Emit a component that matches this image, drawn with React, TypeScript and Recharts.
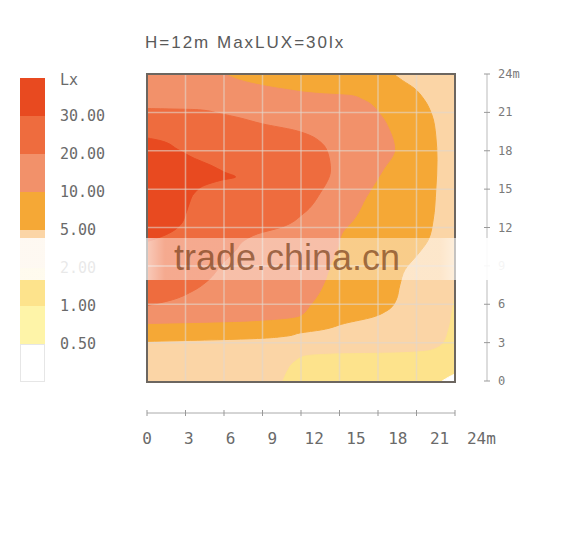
import React from "react";
import { ComposedChart, Area, XAxis, YAxis, CartesianGrid, ReferenceLine } from "recharts";

// isolux levels, in metres.
// for each height y, how far (x) the level reaches from the left wall
const orangeY = [3.1, 3.3, 3.5, 3.75, 4.0, 4.5, 5.0, 5.5, 6.3, 7.5, 8.7, 9.9, 11.0, 12.6, 14.9, 17.3, 19.2, 20.8, 22.0, 22.9, 23.5, 24];
const orangeX = [0, 8.0, 10.8, 11.9, 13.6, 15.4, 17.6, 18.7, 19.4, 19.7, 20.1, 21.1, 21.9, 22.3, 22.5, 22.6, 22.5, 22.2, 21.6, 20.8, 19.9, 19.2];

const salmonY = [4.5, 4.7, 5.1, 5.9, 6.7, 7.9, 9.1, 10.2, 11.7, 12.6, 14.4, 16.5, 18.1, 19.6, 20.8, 22.0, 22.3, 22.5, 22.8, 23.1, 23.5, 24];
const salmonX = [0, 8.0, 11.9, 12.7, 13.3, 13.9, 14.3, 14.8, 15.3, 16.1, 17.1, 18.4, 19.3, 18.9, 18.2, 16.8, 16.0, 13.1, 10.8, 9.0, 7.3, 6.1];

const redY = [5.9, 6.3, 7.0, 7.9, 9.1, 10.2, 11.0, 11.5, 12.0, 13.1, 14.7, 16.5, 17.8, 18.7, 19.2, 19.6, 20.1, 20.6, 20.9, 21.2, 21.3];
const redX = [0, 1.8, 3.5, 4.8, 5.8, 6.9, 7.6, 8.6, 10.4, 12.2, 13.5, 14.3, 14.1, 13.5, 12.7, 11.5, 9.0, 7.1, 5.7, 4.1, 0];

const darkY = [10.9, 11.2, 11.65, 12.2, 13.0, 13.9, 14.7, 15.3, 15.7, 15.95, 16.3, 16.9, 17.4, 18.1, 18.8, 19.0];
const darkX = [0, 0.9, 1.9, 2.6, 3.0, 3.3, 3.7, 4.5, 5.8, 6.9, 6.1, 4.9, 3.7, 2.4, 1.0, 0];

// low levels in the bottom right corner: from x up to the right wall
const yellowY = [0, 0.7, 1.5, 1.95, 2.1, 2.2, 2.4, 3.0, 4.0, 5.55, 6.7];
const yellowFrom = [10.6, 10.9, 11.5, 12.3, 14.3, 19.7, 22.1, 23.1, 23.5, 23.8, 24];
const whiteY = [0, 0.3, 0.55];
const whiteFrom = [23.0, 23.5, 24];

const ticks = [0, 3, 6, 9, 12, 15, 18, 21, 24];
const gridLines = [3, 6, 9, 12, 15, 18, 21];

const legendColors = ["#e84a20", "#ee6c3e", "#f2916a", "#f5a836", "#fbd5a6", "#fde38c", "#fef4a8", "#ffffff"];
const legendLabels = ["Lx", "30.00", "20.00", "10.00", "5.00", "2.00", "1.00", "0.50"];

const rows = (ys: number[], xs: number[]) => ys.map((y, i) => ({ y, x: xs[i] }));
const toWall = (ys: number[], from: number[]) => ys.map((y, i) => ({ y, x: [from[i], 24] }));

const levels = [
  { name: "5-10", data: rows(orangeY, orangeX), color: legendColors[3] },
  { name: "10-20", data: rows(salmonY, salmonX), color: legendColors[2] },
  { name: "20-30", data: rows(redY, redX), color: legendColors[1] },
  { name: "30+", data: rows(darkY, darkX), color: legendColors[0] },
  { name: "1-2", data: toWall(yellowY, yellowFrom), color: legendColors[5] },
  { name: "0.5", data: toWall(whiteY, whiteFrom), color: legendColors[7] },
];

const mono = "'DejaVu Sans Mono', monospace";

const BottomTick = (props: any) => {
  const { x, y, payload } = props;
  const v = payload.value;
  return (
    <g>
      <line x1={x} x2={x} y1={y - 3} y2={y + 3} stroke="#999" />
      <text x={x + v * 1.1} y={y + 31} textAnchor="middle" fontSize={16} fill="#6a6a6a" fontFamily={mono}>
        {v === 24 ? "24m" : v}
      </text>
    </g>
  );
};

const RightTick = (props: any) => {
  const { x, y, payload } = props;
  const v = payload.value;
  return (
    <g>
      <line x1={x - 3} x2={x + 3} y1={y} y2={y} stroke="#999" />
      <text x={x + 11} y={y + 4} fontSize={12} fill="#7a7a7a" fontFamily={mono}>
        {v === 24 ? "24m" : v}
      </text>
    </g>
  );
};

export default function App() {
  return (
    <div style={{ position: "absolute", left: 0, top: 0, width: 577, height: 541, background: "#fff" }}>
      <div
        style={{
          position: "absolute",
          left: 145,
          top: 33,
          fontFamily: "'Liberation Sans', Arial, sans-serif",
          fontSize: 17,
          letterSpacing: 2,
          color: "#5a5a5a",
          whiteSpace: "nowrap",
        }}
      >
        H=12m MaxLUX=30lx
      </div>

      {/* legend */}
      {legendColors.map((c, i) => (
        <div
          key={c}
          style={{
            position: "absolute",
            left: 20,
            top: 78 + i * 38,
            width: 25,
            height: 38,
            background: c,
            boxSizing: "border-box",
            border: i === 7 ? "1px solid #e6e6e6" : "none",
          }}
        />
      ))}
      {legendLabels.map((t, i) => (
        <div
          key={t}
          style={{
            position: "absolute",
            left: 60,
            top: (i === 0 ? 80 : 78 + i * 38) - 10,
            fontFamily: mono,
            fontSize: 15,
            color: "#6a6a6a",
            lineHeight: "20px",
          }}
        >
          {t}
        </div>
      ))}

      <div style={{ position: "absolute", left: 0, top: 0 }}>
        <ComposedChart layout="vertical" width={577} height={541} margin={{ top: 74, left: 147, right: 40, bottom: 88 }}>
          <CartesianGrid xAxisId="m" yAxisId="m" horizontal={false} vertical={false} fill="#fbd5a6" />
          <XAxis xAxisId="gap" type="number" domain={[0, 24]} height={32} tick={false} axisLine={false} tickLine={false} />
          <XAxis
            xAxisId="m"
            type="number"
            domain={[0, 24]}
            ticks={ticks}
            interval={0}
            height={40}
            tick={<BottomTick />}
            tickLine={false}
            tickSize={0}
            tickMargin={0}
            axisLine={{ stroke: "#aaa" }}
            allowDataOverflow
          />
          <YAxis yAxisId="gap" orientation="right" type="number" domain={[0, 24]} width={32} tick={false} axisLine={false} tickLine={false} />
          <YAxis
            yAxisId="m"
            orientation="right"
            type="number"
            dataKey="y"
            domain={[0, 24]}
            reversed
            ticks={ticks}
            interval={0}
            width={50}
            tick={<RightTick />}
            tickLine={false}
            tickSize={0}
            tickMargin={0}
            axisLine={{ stroke: "#bbb" }}
            allowDataOverflow
          />
          {levels.map((l) => (
            <Area
              key={l.name}
              xAxisId="m"
              yAxisId="m"
              data={l.data}
              dataKey="x"
              type="monotone"
              fill={l.color}
              fillOpacity={1}
              stroke={l.color}
              strokeWidth={1}
              dot={false}
              activeDot={false}
              isAnimationActive={false}
            />
          ))}
          {gridLines.map((g) => (
            <ReferenceLine key={"v" + g} xAxisId="m" yAxisId="m" x={g} stroke="rgba(225,215,205,0.6)" strokeWidth={1.5} />
          ))}
          {gridLines.map((g) => (
            <ReferenceLine key={"h" + g} xAxisId="m" yAxisId="m" y={g} stroke="rgba(225,215,205,0.6)" strokeWidth={1.5} />
          ))}
        </ComposedChart>
      </div>

      {/* plot frame */}
      <div
        style={{
          position: "absolute",
          left: 146,
          top: 73,
          width: 310,
          height: 310,
          boxSizing: "border-box",
          border: "2px solid #6c6660",
        }}
      />

      {/* watermark band */}
      <div
        style={{
          position: "absolute",
          left: 0,
          top: 238,
          width: 577,
          height: 42,
          background:
            "linear-gradient(to right, rgba(255,255,255,0.85) 0px, rgba(255,255,255,0.85) 130px, rgba(255,255,255,0.42) 165px, rgba(255,255,255,0.42) 440px, rgba(255,255,255,0.92) 480px, rgba(255,255,255,0.92) 577px)",
        }}
      />
      <div
        style={{
          position: "absolute",
          left: 174,
          top: 236,
          fontFamily: "'Liberation Sans', Arial, sans-serif",
          fontSize: 36,
          lineHeight: "44px",
          color: "rgba(120,62,25,0.7)",
          whiteSpace: "nowrap",
        }}
      >
        trade.china.cn
      </div>
    </div>
  );
}
